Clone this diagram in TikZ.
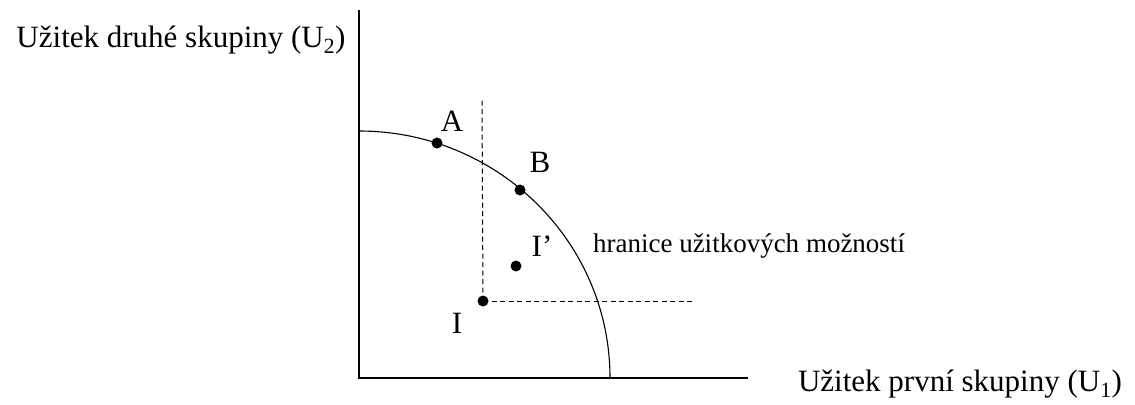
\documentclass[tikz,border=0pt]{standalone}
\usepackage{fontspec}
\setmainfont{Liberation Serif}
\usepackage{tikz}
\usetikzlibrary{positioning,calc}

\begin{document}
\begin{tikzpicture}[x=1bp,y=-1bp,
  axis/.style={line width=1.8bp,black},
  guide/.style={dash pattern=on 5bp off 3.5bp,line width=1bp,black},
  frontier/.style={line width=1.1bp,black},
  dot/.style={circle,fill=black,inner sep=0pt,minimum size=11bp},
  every node/.style={font=\fontsize{31bp}{36bp}\selectfont,inner sep=0pt}]
  \useasboundingbox (0,0) rectangle (1135,404);
  \coordinate (O) at (359,378);
  \coordinate (ytop) at (359,10);
  \coordinate (xend) at (748,378);
  \draw[axis] (ytop)--(O)--(xend);
  \node (ylab) at (181,40) {Užitek druhé skupiny (U\textsubscript{2})};
  \node (xlab) at (960,384) {Užitek první skupiny (U\textsubscript{1})};
  % frontier of utility possibilities
  \draw[frontier] (359,131) arc[start angle=90,end angle=0,x radius=251,y radius=-247];
  \node[font=\fontsize{27bp}{32bp}\selectfont] (flab) at (749,246) {hranice užitkových možností};
  \node[dot] (pA) at (437,143) {};
  \node[dot] (pB) at (520,190) {};
  \node[dot] (pI) at (483,301) {};
  \node[dot] (pIp) at (516,266) {};
  \node (lA) at (452,121) {A};
  \node (lB) at (540,162) {B};
  \node (lIp) at (542,246) {I’};
  \node (lI) at (457,323) {I};
  \coordinate (vtop) at (482,97);
  \coordinate (hend) at (693,301);
  \draw[guide] (pI.center)--(vtop);
  \draw[guide] (pI.center)--(hend);
\end{tikzpicture}
\end{document}
